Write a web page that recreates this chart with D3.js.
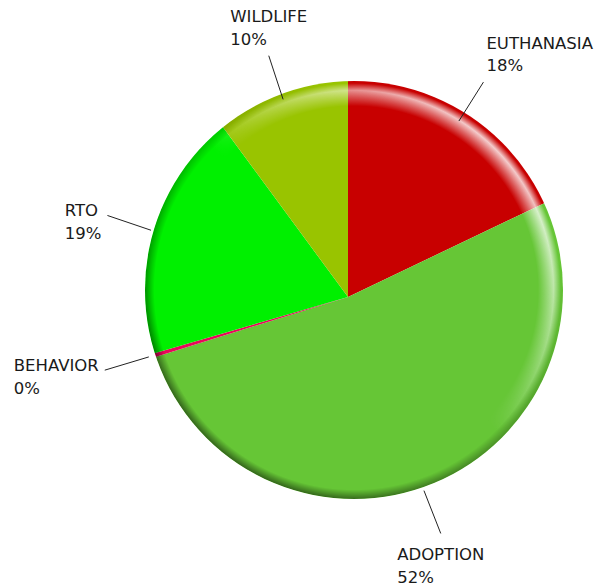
<!DOCTYPE html>
<html lang="en">
<head>
<meta charset="utf-8">
<title>Outcome Pie</title>
<script src="https://d3js.org/d3.v7.min.js"></script>
<style>
    body { margin: 0; background: #fff; }
    .label text {
        font-family: "DejaVu Sans", Verdana, sans-serif;
        font-size: 16.5px;
        fill: #1a1a1a;
    }
    .leader { stroke: #222; stroke-width: 1; fill: none; }
</style>
</head>
<body>
<script>
// data, clockwise from 12 o'clock
const categories = ["EUTHANASIA", "ADOPTION", "BEHAVIOR", "RTO", "WILDLIFE"];
const shares = [17.9, 52.3, 0.3, 19.4, 10.1];
const colors = ["#c80000", "#66c636", "#e8085a", "#00f000", "#99c400"];

const w = 596, h = 587;
const disc = {x: 354, y: 290, r: 209};   // outline of the disc
const hub = {x: 348, y: 297};            // where the wedges meet
const lineH = 22.5;

const data = categories.map((c, i) => ({name: c, value: shares[i], color: colors[i]}));

const svg = d3.select("body").append("svg")
    .attr("width", w)
    .attr("height", h);

const defs = svg.append("defs");

defs.append("clipPath").attr("id", "disc-clip")
    .append("circle").attr("cx", disc.x).attr("cy", disc.y).attr("r", disc.r);

// rim highlight band
const band = defs.append("radialGradient").attr("id", "band-fade");
band.append("stop").attr("offset", 0.88).attr("stop-color", "#000");
band.append("stop").attr("offset", 0.955).attr("stop-color", "#fff");
band.append("stop").attr("offset", 0.99).attr("stop-color", "#000");
defs.append("mask").attr("id", "band-mask")
    .append("circle").attr("cx", disc.x).attr("cy", disc.y).attr("r", disc.r)
    .attr("fill", "url(#band-fade)");

const light = defs.append("linearGradient").attr("id", "light-dir")
    .attr("x1", 0.9).attr("y1", 0.1).attr("x2", 0.5).attr("y2", 0.5);
light.append("stop").attr("offset", 0).attr("stop-color", "#fff").attr("stop-opacity", 0.95);
light.append("stop").attr("offset", 1).attr("stop-color", "#fff").attr("stop-opacity", 0);

// dark outer edge
const edge = defs.append("radialGradient").attr("id", "edge-fade");
edge.append("stop").attr("offset", 0.955).attr("stop-color", "#000");
edge.append("stop").attr("offset", 1).attr("stop-color", "#fff");
defs.append("mask").attr("id", "edge-mask")
    .append("circle").attr("cx", disc.x).attr("cy", disc.y).attr("r", disc.r)
    .attr("fill", "url(#edge-fade)");

const shade = defs.append("linearGradient").attr("id", "shade-dir")
    .attr("x1", 0.75).attr("y1", 0.25).attr("x2", 0.25).attr("y2", 0.9);
shade.append("stop").attr("offset", 0).attr("stop-color", "#000").attr("stop-opacity", 0);
shade.append("stop").attr("offset", 1).attr("stop-color", "#000").attr("stop-opacity", 0.5);

const pie = d3.pie().sort(null).value(d => d.value);
const arcs = pie(data);

const wedge = d3.arc().innerRadius(0).outerRadius(disc.r + 30);

svg.append("g")
    .attr("clip-path", "url(#disc-clip)")
    .append("g")
    .attr("transform", `translate(${hub.x},${hub.y})`)
    .selectAll("path")
    .data(arcs)
    .join("path")
    .attr("d", wedge)
    .attr("fill", d => d.data.color);

svg.append("circle")
    .attr("cx", disc.x).attr("cy", disc.y).attr("r", disc.r)
    .attr("fill", "url(#light-dir)")
    .attr("mask", "url(#band-mask)");

svg.append("circle")
    .attr("cx", disc.x).attr("cy", disc.y).attr("r", disc.r)
    .attr("fill", "url(#shade-dir)")
    .attr("mask", "url(#edge-mask)");

// leader lines and labels
const innerPt = d3.arc().innerRadius(208).outerRadius(208);
const outerPt = d3.arc().innerRadius(254).outerRadius(254);

const labels = svg.append("g")
    .attr("class", "label")
    .attr("transform", `translate(${hub.x},${hub.y})`);

arcs.forEach(d => {
    const [ix, iy] = innerPt.centroid(d);
    const [ox, oy] = outerPt.centroid(d);
    labels.append("line")
        .attr("class", "leader")
        .attr("x1", ix).attr("y1", iy)
        .attr("x2", ox).attr("y2", oy);

    // text block, lines left aligned
    const t = labels.append("text");
    t.append("tspan").text(d.data.name);
    t.append("tspan").attr("dy", lineH).text(Math.round(d.data.value) + "%");
    const bw = d3.max(t.selectAll("tspan").nodes(), n => n.getComputedTextLength());

    const deg = (d.startAngle + d.endAngle) / 2 * 180 / Math.PI;
    const sector = Math.round(deg / 45) % 8;   // 0 = N, 1 = NE ... 7 = NW
    let x, y1;
    if (sector == 0) { x = ox - bw / 2; y1 = oy - 11 - lineH; }
    else if (sector == 1) { x = ox + 3; y1 = oy - 11 - lineH; }
    else if (sector == 2) { x = ox + 6; y1 = oy + 1; }
    else if (sector == 3) { x = ox + 3; y1 = oy + 27; }
    else if (sector == 4) { x = ox - bw / 2; y1 = oy + 27; }
    else if (sector == 5) { x = ox - 3 - bw; y1 = oy + 27; }
    else if (sector == 6) { x = ox - 6 - bw; y1 = oy + 1; }
    else { x = ox - 3 - bw; y1 = oy - 11 - lineH; }

    t.attr("y", y1);
    t.selectAll("tspan").attr("x", x);
});
</script>
</body>
</html>
